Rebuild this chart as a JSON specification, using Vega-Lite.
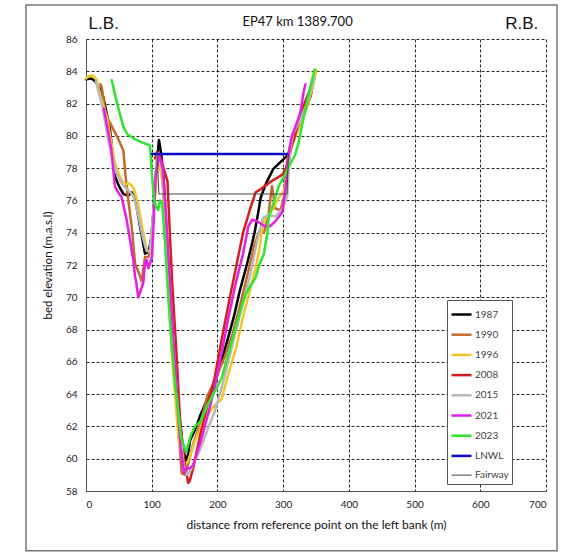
{
  "$schema": "https://vega.github.io/schema/vega-lite/v6.json",
  "autosize": "none",
  "width": 460,
  "height": 452,
  "padding": {"left": 86, "top": 39, "right": 15, "bottom": 62},
  "background": "white",
  "config": {"view": {"stroke": null}, "font": "Lato"},
  "datasets": {
    "profiles": [
      {"s":"1987","x":0,"y":83.5},{"s":"1987","x":8,"y":83.55},{"s":"1987","x":13.7,"y":83.4},{"s":"1987","x":20,"y":83.0},{"s":"1987","x":26.3,"y":82.4},{"s":"1987","x":36.5,"y":80.4},{"s":"1987","x":44.1,"y":77.5},{"s":"1987","x":50,"y":76.9},{"s":"1987","x":56.8,"y":76.4},{"s":"1987","x":64.4,"y":76.3},{"s":"1987","x":69.5,"y":76.5},{"s":"1987","x":74.6,"y":76.2},{"s":"1987","x":82.2,"y":74.4},{"s":"1987","x":89.8,"y":72.7},{"s":"1987","x":95,"y":72.8},{"s":"1987","x":99,"y":73.6},{"s":"1987","x":103,"y":75.5},{"s":"1987","x":107,"y":78.0},{"s":"1987","x":111,"y":79.75},{"s":"1987","x":114,"y":79.0},{"s":"1987","x":118,"y":77.5},{"s":"1987","x":124,"y":73.0},{"s":"1987","x":132,"y":67.5},{"s":"1987","x":140,"y":63.5},{"s":"1987","x":147,"y":60.8},{"s":"1987","x":152,"y":59.9},{"s":"1987","x":155.7,"y":60.3},{"s":"1987","x":158,"y":61.1},{"s":"1987","x":166,"y":61.8},{"s":"1987","x":174,"y":62.7},{"s":"1987","x":183.6,"y":63.6},{"s":"1987","x":195.7,"y":64.6},{"s":"1987","x":205,"y":65.9},{"s":"1987","x":215,"y":67.3},{"s":"1987","x":225,"y":68.8},{"s":"1987","x":234,"y":70.4},{"s":"1987","x":244.6,"y":72.0},{"s":"1987","x":252,"y":73.2},{"s":"1987","x":257,"y":74.1},{"s":"1987","x":261,"y":75.0},{"s":"1987","x":266,"y":76.2},{"s":"1987","x":274.5,"y":77.1},{"s":"1987","x":285,"y":77.95},{"s":"1987","x":299,"y":78.5},{"s":"1987","x":307,"y":78.8},{"s":"1987","x":315,"y":79.6},{"s":"1987","x":326,"y":80.8},{"s":"1987","x":335,"y":81.7},{"s":"1987","x":342,"y":82.5},{"s":"1987","x":348,"y":83.8},

      {"s":"1990","x":22,"y":83.2},{"s":"1990","x":24,"y":83.0},{"s":"1990","x":28.9,"y":81.6},{"s":"1990","x":33,"y":81.1},{"s":"1990","x":39.1,"y":80.6},{"s":"1990","x":48,"y":79.9},{"s":"1990","x":56.8,"y":79.1},{"s":"1990","x":60,"y":77.6},{"s":"1990","x":64.4,"y":76.0},{"s":"1990","x":69.5,"y":74.4},{"s":"1990","x":74.6,"y":72.1},{"s":"1990","x":79.6,"y":71.6},{"s":"1990","x":84.7,"y":71.0},{"s":"1990","x":89.8,"y":72.5},{"s":"1990","x":95,"y":72.5},{"s":"1990","x":98,"y":72.9},{"s":"1990","x":103,"y":75.3},{"s":"1990","x":108.7,"y":78.8},{"s":"1990","x":111,"y":78.7},{"s":"1990","x":116.8,"y":77.1},{"s":"1990","x":125,"y":71.0},{"s":"1990","x":135.9,"y":64.4},{"s":"1990","x":145.6,"y":59.1},{"s":"1990","x":151,"y":59.0},{"s":"1990","x":155,"y":59.6},{"s":"1990","x":163,"y":60.9},{"s":"1990","x":174,"y":62.2},{"s":"1990","x":184.8,"y":63.9},{"s":"1990","x":195.7,"y":64.8},{"s":"1990","x":212,"y":66.4},{"s":"1990","x":222.8,"y":67.7},{"s":"1990","x":233.7,"y":69.4},{"s":"1990","x":244.6,"y":71.2},{"s":"1990","x":255.4,"y":73.1},{"s":"1990","x":263.6,"y":74.1},{"s":"1990","x":270.7,"y":74.0},{"s":"1990","x":277,"y":74.9},{"s":"1990","x":283,"y":76.9},{"s":"1990","x":288,"y":75.5},{"s":"1990","x":296,"y":75.4},{"s":"1990","x":301.6,"y":76.2},{"s":"1990","x":304,"y":77.9},{"s":"1990","x":309.8,"y":79.3},{"s":"1990","x":320.7,"y":80.4},{"s":"1990","x":331.5,"y":81.4},{"s":"1990","x":342,"y":83.0},{"s":"1990","x":348,"y":83.9},

      {"s":"1996","x":0,"y":83.55},{"s":"1996","x":5,"y":83.7},{"s":"1996","x":10,"y":83.75},{"s":"1996","x":16,"y":83.5},{"s":"1996","x":22,"y":82.5},{"s":"1996","x":32.6,"y":81.0},{"s":"1996","x":38,"y":79.7},{"s":"1996","x":43.5,"y":78.4},{"s":"1996","x":49,"y":77.7},{"s":"1996","x":56.8,"y":77.06},{"s":"1996","x":62.5,"y":77.0},{"s":"1996","x":65.9,"y":77.06},{"s":"1996","x":72,"y":76.8},{"s":"1996","x":76,"y":76.3},{"s":"1996","x":81.5,"y":75.3},{"s":"1996","x":87,"y":74.0},{"s":"1996","x":92.4,"y":72.9},{"s":"1996","x":97.8,"y":72.8},{"s":"1996","x":103,"y":75.3},{"s":"1996","x":109.8,"y":78.6},{"s":"1996","x":116.8,"y":77.1},{"s":"1996","x":122,"y":73.2},{"s":"1996","x":130.4,"y":66.6},{"s":"1996","x":141,"y":61.1},{"s":"1996","x":149.5,"y":59.6},{"s":"1996","x":155,"y":59.8},{"s":"1996","x":165.8,"y":61.1},{"s":"1996","x":179,"y":62.4},{"s":"1996","x":195.7,"y":63.3},{"s":"1996","x":206.5,"y":63.7},{"s":"1996","x":217,"y":65.3},{"s":"1996","x":228,"y":66.8},{"s":"1996","x":239,"y":68.8},{"s":"1996","x":250,"y":70.5},{"s":"1996","x":258,"y":71.8},{"s":"1996","x":263.6,"y":72.9},{"s":"1996","x":268,"y":74.2},{"s":"1996","x":272,"y":74.9},{"s":"1996","x":277,"y":75.1},{"s":"1996","x":285,"y":75.5},{"s":"1996","x":293.5,"y":76.2},{"s":"1996","x":301.6,"y":76.6},{"s":"1996","x":307,"y":78.2},{"s":"1996","x":312.5,"y":79.3},{"s":"1996","x":323,"y":80.4},{"s":"1996","x":337,"y":81.9},{"s":"1996","x":345,"y":83.0},{"s":"1996","x":350.5,"y":84.1},

      {"s":"2008","x":105,"y":78.6},{"s":"2008","x":108,"y":79.0},{"s":"2008","x":112,"y":78.8},{"s":"2008","x":118,"y":78.0},{"s":"2008","x":124,"y":77.2},{"s":"2008","x":127,"y":74.5},{"s":"2008","x":131,"y":71.0},{"s":"2008","x":137,"y":67.0},{"s":"2008","x":143,"y":62.5},{"s":"2008","x":149,"y":60.0},{"s":"2008","x":155.5,"y":58.5},{"s":"2008","x":157.6,"y":58.6},{"s":"2008","x":163,"y":59.4},{"s":"2008","x":174,"y":61.5},{"s":"2008","x":184.8,"y":63.3},{"s":"2008","x":195.7,"y":65.0},{"s":"2008","x":206.5,"y":67.4},{"s":"2008","x":217,"y":69.6},{"s":"2008","x":228,"y":71.8},{"s":"2008","x":239,"y":74.0},{"s":"2008","x":250,"y":75.5},{"s":"2008","x":258,"y":76.5},{"s":"2008","x":266,"y":76.7},{"s":"2008","x":282.6,"y":77.2},{"s":"2008","x":299,"y":77.6},{"s":"2008","x":307,"y":78.2},{"s":"2008","x":312.5,"y":79.3},{"s":"2008","x":320.7,"y":80.4},{"s":"2008","x":331.5,"y":81.9},{"s":"2008","x":342,"y":83.0},

      {"s":"2015","x":15,"y":83.4},{"s":"2015","x":25,"y":81.8},{"s":"2015","x":35,"y":79.5},{"s":"2015","x":45,"y":77.8},{"s":"2015","x":55,"y":77.0},{"s":"2015","x":65,"y":76.6},{"s":"2015","x":72,"y":76.3},{"s":"2015","x":80,"y":75.0},{"s":"2015","x":87,"y":73.6},{"s":"2015","x":92,"y":72.9},{"s":"2015","x":97,"y":72.8},{"s":"2015","x":102,"y":75.0},{"s":"2015","x":107,"y":78.4},{"s":"2015","x":110,"y":78.9},{"s":"2015","x":115,"y":78.2},{"s":"2015","x":122,"y":75.0},{"s":"2015","x":130,"y":69.0},{"s":"2015","x":140,"y":63.0},{"s":"2015","x":148,"y":59.8},{"s":"2015","x":153,"y":59.0},{"s":"2015","x":158,"y":59.2},{"s":"2015","x":165,"y":59.8},{"s":"2015","x":174,"y":60.6},{"s":"2015","x":184.8,"y":61.8},{"s":"2015","x":195.7,"y":62.9},{"s":"2015","x":206.5,"y":64.4},{"s":"2015","x":217,"y":66.1},{"s":"2015","x":233.7,"y":68.8},{"s":"2015","x":250,"y":71.4},{"s":"2015","x":261,"y":73.6},{"s":"2015","x":269,"y":74.9},{"s":"2015","x":277,"y":75.1},{"s":"2015","x":288,"y":75.0},{"s":"2015","x":299,"y":75.5},{"s":"2015","x":306,"y":76.2},{"s":"2015","x":308,"y":77.5},{"s":"2015","x":311,"y":79.2},{"s":"2015","x":315,"y":80.1},{"s":"2015","x":326,"y":81.0},{"s":"2015","x":337,"y":82.1},{"s":"2015","x":348,"y":83.6},

      {"s":"2021","x":27,"y":81.7},{"s":"2021","x":28.9,"y":81.3},{"s":"2021","x":33,"y":80.4},{"s":"2021","x":38,"y":79.3},{"s":"2021","x":44.1,"y":76.85},{"s":"2021","x":49,"y":76.5},{"s":"2021","x":54.3,"y":76.2},{"s":"2021","x":58,"y":75.5},{"s":"2021","x":61.9,"y":74.8},{"s":"2021","x":66,"y":73.8},{"s":"2021","x":72,"y":72.3},{"s":"2021","x":74.6,"y":71.3},{"s":"2021","x":76.5,"y":70.9},{"s":"2021","x":79.6,"y":70.0},{"s":"2021","x":84,"y":70.5},{"s":"2021","x":87.2,"y":70.9},{"s":"2021","x":89.8,"y":72.1},{"s":"2021","x":92.4,"y":72.3},{"s":"2021","x":95,"y":71.8},{"s":"2021","x":100.5,"y":72.5},{"s":"2021","x":106,"y":77.5},{"s":"2021","x":111,"y":78.8},{"s":"2021","x":116.8,"y":78.0},{"s":"2021","x":122,"y":74.9},{"s":"2021","x":127.7,"y":71.0},{"s":"2021","x":135.9,"y":65.5},{"s":"2021","x":144,"y":60.7},{"s":"2021","x":149.5,"y":59.1},{"s":"2021","x":152,"y":59.4},{"s":"2021","x":157.6,"y":59.4},{"s":"2021","x":163,"y":59.6},{"s":"2021","x":174,"y":61.0},{"s":"2021","x":184.8,"y":62.6},{"s":"2021","x":195.7,"y":64.4},{"s":"2021","x":206.5,"y":66.6},{"s":"2021","x":217,"y":68.8},{"s":"2021","x":228,"y":70.9},{"s":"2021","x":239,"y":72.7},{"s":"2021","x":247,"y":74.4},{"s":"2021","x":252.7,"y":74.8},{"s":"2021","x":261,"y":74.7},{"s":"2021","x":272,"y":74.4},{"s":"2021","x":280,"y":74.4},{"s":"2021","x":288,"y":74.7},{"s":"2021","x":299,"y":75.3},{"s":"2021","x":304,"y":76.9},{"s":"2021","x":307,"y":78.4},{"s":"2021","x":312.5,"y":79.9},{"s":"2021","x":320.7,"y":80.8},{"s":"2021","x":326,"y":81.4},{"s":"2021","x":331.5,"y":82.8},{"s":"2021","x":334,"y":83.2},

      {"s":"2023","x":39.1,"y":83.46},{"s":"2023","x":45,"y":82.4},{"s":"2023","x":50,"y":81.6},{"s":"2023","x":56.8,"y":80.57},{"s":"2023","x":63,"y":80.1},{"s":"2023","x":72,"y":79.85},{"s":"2023","x":85,"y":79.6},{"s":"2023","x":97.4,"y":79.4},{"s":"2023","x":99.9,"y":77.9},{"s":"2023","x":103.5,"y":76.0},{"s":"2023","x":107,"y":75.6},{"s":"2023","x":110,"y":75.4},{"s":"2023","x":112.6,"y":76.0},{"s":"2023","x":116,"y":75.8},{"s":"2023","x":120,"y":73.5},{"s":"2023","x":126,"y":69.5},{"s":"2023","x":135,"y":64.8},{"s":"2023","x":145,"y":61.3},{"s":"2023","x":152,"y":60.4},{"s":"2023","x":155,"y":60.8},{"s":"2023","x":160,"y":61.5},{"s":"2023","x":165.8,"y":62.0},{"s":"2023","x":174,"y":62.3},{"s":"2023","x":184.8,"y":63.3},{"s":"2023","x":206.5,"y":65.0},{"s":"2023","x":222.8,"y":67.4},{"s":"2023","x":233.7,"y":69.0},{"s":"2023","x":242,"y":70.1},{"s":"2023","x":250,"y":70.7},{"s":"2023","x":258,"y":71.2},{"s":"2023","x":263.6,"y":72.0},{"s":"2023","x":270.7,"y":72.7},{"s":"2023","x":276,"y":74.0},{"s":"2023","x":278,"y":74.9},{"s":"2023","x":285,"y":75.8},{"s":"2023","x":293.5,"y":76.9},{"s":"2023","x":301.6,"y":77.5},{"s":"2023","x":310,"y":78.2},{"s":"2023","x":318,"y":78.8},{"s":"2023","x":323,"y":79.5},{"s":"2023","x":331.5,"y":81.2},{"s":"2023","x":340,"y":82.8},{"s":"2023","x":348,"y":84.1},

      {"s":"LNWL","x":100.5,"y":78.87},{"s":"LNWL","x":306,"y":78.87},

      {"s":"Fairway","x":108,"y":78.87},{"s":"Fairway","x":111,"y":76.4},{"s":"Fairway","x":306,"y":76.4},{"s":"Fairway","x":308,"y":78.87}
    ]
  },
  "layer": [
    {
      "data": {"values": [{}]},
      "mark": {"type": "rect", "fill": null, "fillOpacity": 0, "stroke": "#777", "strokeWidth": 1.5},
      "encoding": {"x": {"datum": -91.3}, "x2": {"datum": 716.8}, "y": {"datum": 88.1}, "y2": {"datum": 54.3}}
    },
    {
      "data": {"name": "profiles"},
      "mark": {"type": "line", "strokeJoin": "round", "strokeCap": "round"},
      "encoding": {
        "x": {
          "field": "x", "type": "quantitative",
          "scale": {"domain": [0, 700], "nice": false, "zero": false},
          "axis": {
            "title": "distance from reference point on the left bank (m)",
            "values": [0, 100, 200, 300, 400, 500, 600, 700], "tickCount": 8,
            "grid": true, "gridColor": "#000", "gridDash": [3, 2], "gridOpacity": 0.85, "gridWidth": 1,
            "ticks": false, "domainColor": "#555", "domainWidth": 1, "labelOverlap": false,
            "labelFont": "Lato", "labelFontSize": 10, "labelColor": "#222", "labelPadding": 8,
            "titleFont": "Lato", "titleFontSize": 12, "titleFontWeight": "normal", "titleColor": "#111", "titlePadding": 10
          }
        },
        "y": {
          "field": "y", "type": "quantitative",
          "scale": {"domain": [58, 86], "nice": false, "zero": false},
          "axis": {
            "title": "bed elevation (m.a.s.l)",
            "values": [58, 60, 62, 64, 66, 68, 70, 72, 74, 76, 78, 80, 82, 84, 86], "tickCount": 15,
            "grid": true, "gridColor": "#000", "gridDash": [3, 2], "gridOpacity": 0.85, "gridWidth": 1,
            "ticks": false, "domainColor": "#555", "domainWidth": 1, "labelOverlap": false,
            "labelFont": "Lato", "labelFontSize": 10, "labelColor": "#222", "labelPadding": 9,
            "titleFont": "Lato", "titleFontSize": 11.5, "titleFontWeight": "normal", "titleColor": "#111", "titlePadding": 12
          }
        },
        "color": {
          "field": "s", "type": "nominal",
          "scale": {
            "domain": ["1987", "1990", "1996", "2008", "2015", "2021", "2023", "LNWL", "Fairway"],
            "range": ["#000000", "#c46a2e", "#f2c62a", "#d61e1e", "#b8b8b8", "#e51fe5", "#2ee62e", "#0a0ac8", "#444444"]
          },
          "legend": {
            "title": null, "orient": "none", "legendX": 361, "legendY": 261,
            "symbolType": "stroke", "symbolSize": 400, "labelFont": "Lato", "labelFontSize": 10, "labelColor": "#444",
            "labelOffset": 2, "rowPadding": 3.2, "padding": 3, "strokeColor": "#555", "fillColor": "white", "cornerRadius": 0
          }
        },
        "strokeWidth": {
          "field": "s", "type": "nominal",
          "scale": {
            "type": "ordinal",
            "domain": ["1987", "1990", "1996", "2008", "2015", "2021", "2023", "LNWL", "Fairway"],
            "range": [2.5, 2.5, 2.5, 2.5, 2.5, 2.5, 2.5, 2.5, 1]
          },
          "legend": {
            "title": null, "orient": "none", "legendX": 361, "legendY": 261,
            "symbolType": "stroke", "symbolSize": 400, "labelFont": "Lato", "labelFontSize": 10, "labelColor": "#444",
            "labelOffset": 2, "rowPadding": 3.2, "padding": 3, "strokeColor": "#555", "fillColor": "white", "cornerRadius": 0
          }
        }
      }
    },
    {
      "data": {"values": [{}]},
      "mark": {"type": "text", "font": "Lato", "fontSize": 13, "color": "#111", "baseline": "middle", "align": "center"},
      "encoding": {"x": {"datum": 322}, "y": {"datum": 87.05}, "text": {"value": "EP47 km 1389.700"}}
    },
    {
      "data": {"values": [{}]},
      "mark": {"type": "text", "font": "Liberation Sans", "fontSize": 17, "color": "#111", "baseline": "middle", "align": "center"},
      "encoding": {"x": {"datum": 27}, "y": {"datum": 86.93}, "text": {"value": "L.B."}}
    },
    {
      "data": {"values": [{}]},
      "mark": {"type": "text", "font": "Liberation Sans", "fontSize": 17, "color": "#111", "baseline": "middle", "align": "center"},
      "encoding": {"x": {"datum": 663}, "y": {"datum": 86.93}, "text": {"value": "R.B."}}
    }
  ]
}
